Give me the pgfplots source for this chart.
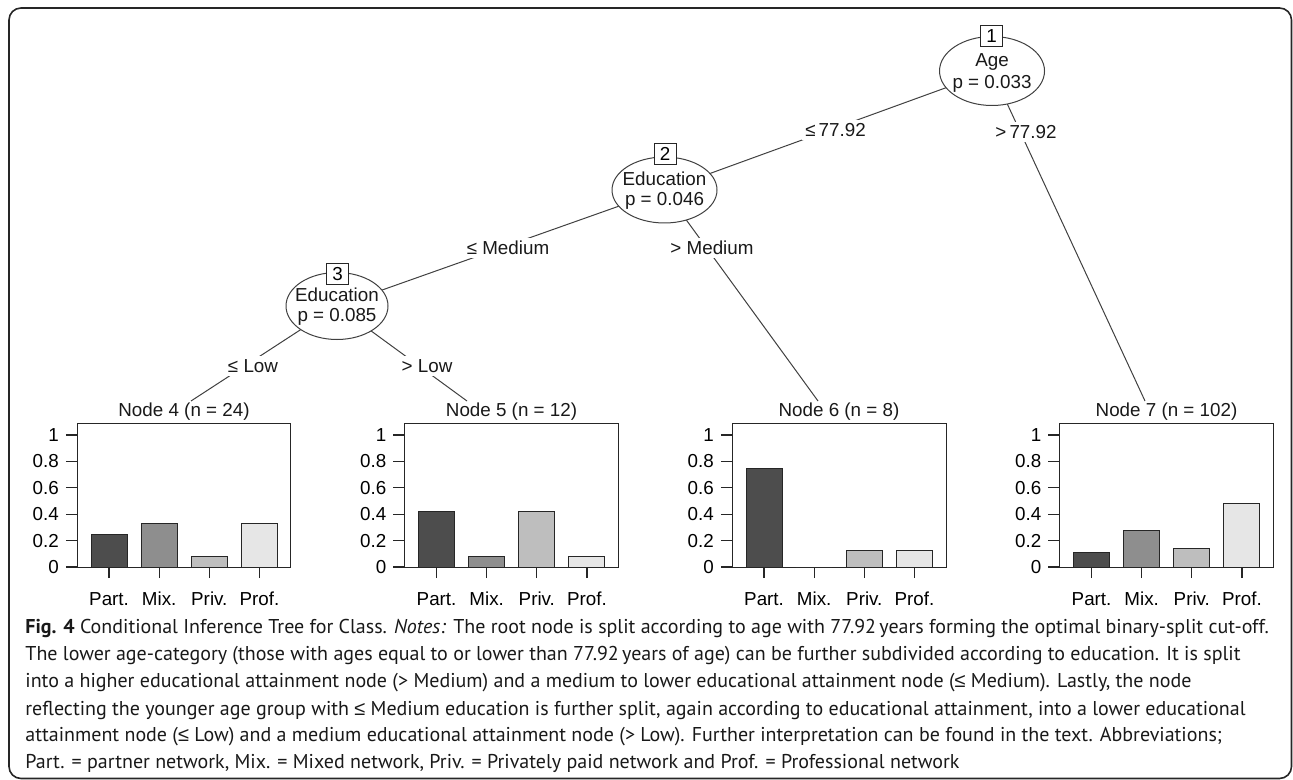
\documentclass[border=0pt]{standalone}
\usepackage{pgfplots}
\pgfplotsset{compat=1.18}
\usepackage{fontspec}
\setmainfont{Liberation Sans}
\newfontfamily\capfont{PT Sans}
\newfontfamily\capfontsym{Liberation Sans}
\definecolor{cA}{HTML}{4D4D4D}
\definecolor{cB}{HTML}{8E8E8E}
\definecolor{cC}{HTML}{BEBEBE}
\definecolor{cD}{HTML}{E6E6E6}
\newcommand\tf{\fontsize{9.4pt}{11pt}\selectfont}
\newcommand\cf{\capfont\fontsize{10pt}{12pt}\selectfont}
\newcommand\capsx{1.0}
\newcommand\lesym{{\capfontsym ≤}}
\pgfplotsset{term/.style={
  scale only axis, width=107pt, height=72pt, anchor=south west,
  xmin=0.36, xmax=4.63, ymin=0, ymax=1.0909,
  axis line style={black!85, line width=0.5pt},
  xtick={1,2,3,4}, xticklabels={Part.,Mix.,Priv.,Prof.},
  ytick={0,0.2,0.4,0.6,0.8,1}, yticklabels={0,0.2,0.4,0.6,0.8,1},
  tick align=outside, major tick length=5.6pt,
  every tick/.style={black!85, line width=0.6pt},
  xtick pos=left, ytick pos=left,
  ticklabel style={font=\tf},
  xticklabel style={yshift=-3.5pt},
  clip=false,
}}
\tikzset{mybar/.style={ybar, bar shift=0pt, bar width=18pt, draw=black!85, line width=0.5pt}}
\begin{document}
\begin{tikzpicture}[x=0.5pt,y=-0.5pt]
\useasboundingbox (0,0) rectangle (1293,780);
\draw[black!85, line width=0.8pt, rounded corners=6pt] (9,8) rectangle (1291.5,778.5);
\coordinate (p4) at (77,567);
\coordinate (p5) at (404.5,567);
\coordinate (p6) at (732,567);
\coordinate (p7) at (1059.5,567);
% edges
\begin{scope}[black!75, line width=0.5pt]
\draw (992,71) -- (664.5,190);
\draw (992,71) -- (1145,401);
\draw (664.5,190) -- (337,306);
\draw (664.5,190) -- (818,401);
\draw (337,306) -- (191,401);
\draw (337,306) -- (467,401);
\end{scope}
% inner nodes
\begin{scope}[black!75, line width=0.5pt]
\draw[fill=white] (992,71) ellipse [x radius=26.25pt, y radius=17.25pt];
\draw[fill=white] (664.5,190) ellipse [x radius=26.25pt, y radius=16.5pt];
\draw[fill=white] (337,306) ellipse [x radius=25.5pt, y radius=16.75pt];
\end{scope}
\tikzset{lab/.style={fill=white, inner sep=1.5pt, font=\tf, text=black!90},
 num/.style={draw=black!85, fill=white, line width=0.5pt, inner sep=0pt, minimum width=11pt, minimum height=10.5pt, font=\tf},
 txt/.style={inner sep=0pt, font=\tf, text=black!90}}
\node[txt] at (992,62) {Age};
\node[txt] at (992,84) {p = 0.033};
\node[txt] at (664.5,179) {Education};
\node[txt] at (664.5,201) {p = 0.046};
\node[txt] at (337,295) {Education};
\node[txt] at (337,317) {p = 0.085};
\node[num] at (991.5,36.5) {1};
\node[num] at (665,154) {2};
\node[num] at (337.5,274) {3};
\node[lab] at (835.5,130) {≤\,77.92};
\node[lab] at (1026,132) {>\,77.92};
\node[lab] at (508,248) {≤ Medium};
\node[lab] at (712,248) {> Medium};
\node[lab] at (253,366) {≤ Low};
\node[lab] at (427,366) {> Low};
% titles
\node[txt] at (184,412) {Node 4 (n = 24)};
\node[txt] at (511.5,412) {Node 5 (n = 12)};
\node[txt] at (839,412) {Node 6 (n = 8)};
\node[txt] at (1166.5,412) {Node 7 (n = 102)};
% terminal plots
\begin{axis}[term, at={(p4)}]
\addplot[mybar, fill=cA] coordinates {(1,0.25)};
\addplot[mybar, fill=cB] coordinates {(2,0.3333)};
\addplot[mybar, fill=cC] coordinates {(3,0.0833)};
\addplot[mybar, fill=cD] coordinates {(4,0.3333)};
\end{axis}
\begin{axis}[term, at={(p5)}]
\addplot[mybar, fill=cA] coordinates {(1,0.4167)};
\addplot[mybar, fill=cB] coordinates {(2,0.0833)};
\addplot[mybar, fill=cC] coordinates {(3,0.4167)};
\addplot[mybar, fill=cD] coordinates {(4,0.0833)};
\end{axis}
\begin{axis}[term, at={(p6)}]
\addplot[mybar, fill=cA] coordinates {(1,0.75)};
\addplot[mybar, fill=cB] coordinates {(2,0)};
\addplot[mybar, fill=cC] coordinates {(3,0.125)};
\addplot[mybar, fill=cD] coordinates {(4,0.125)};
\end{axis}
\begin{axis}[term, at={(p7)}]
\addplot[mybar, fill=cA] coordinates {(1,0.1078)};
\addplot[mybar, fill=cB] coordinates {(2,0.2745)};
\addplot[mybar, fill=cC] coordinates {(3,0.1373)};
\addplot[mybar, fill=cD] coordinates {(4,0.4804)};
\end{axis}
% caption
\tikzset{capline/.style={anchor=west, inner sep=0pt, font=\cf, text=black!90}}
\node[capline] at (25,628) {\scalebox{\capsx}[1]{\textbf{Fig. 4} Conditional Inference Tree for Class. \textit{Notes:} The root node is split according to age with 77.92\,years forming the optimal binary-split cut-off.}};
\node[capline] at (25,655.5) {\scalebox{\capsx}[1]{The lower age-category (those with ages equal to or lower than 77.92\,years of age) can be further subdivided according to education. It is split}};
\node[capline] at (25,683) {\scalebox{\capsx}[1]{into a higher educational attainment node (> Medium) and a medium to lower educational attainment node (\lesym\ Medium). Lastly, the node}};
\node[capline] at (25,710) {\scalebox{\capsx}[1]{reflecting the younger age group with \lesym\ Medium education is further split, again according to educational attainment, into a lower educational}};
\node[capline] at (25,736.5) {\scalebox{\capsx}[1]{attainment node (\lesym\ Low) and a medium educational attainment node (> Low). Further interpretation can be found in the text. Abbreviations;}};
\node[capline] at (25,763) {\scalebox{\capsx}[1]{Part. = partner network, Mix. = Mixed network, Priv. = Privately paid network and Prof. = Professional network}};
\end{tikzpicture}
\end{document}
